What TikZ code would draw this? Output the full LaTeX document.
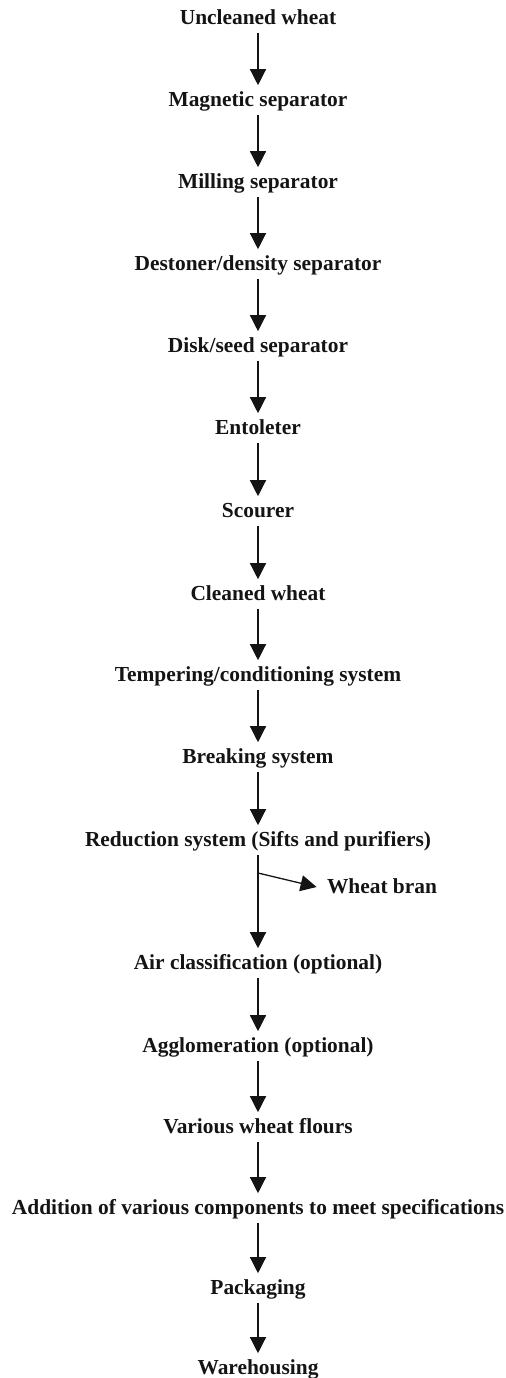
\documentclass[tikz,border=0pt]{standalone}
\usepackage{fontspec}
\setmainfont{Liberation Serif}
\usetikzlibrary{arrows.meta,positioning}
\definecolor{ink}{HTML}{141414}
\tikzset{
  % ---- process stages --------------------------------------------
  stage/.style  = {font=\fontsize{10.7}{12.5}\selectfont\bfseries, text=ink,
                   inner xsep=1pt, inner ysep=2.7pt,
                   text height=0.75em, text depth=0.15em},
  side/.style   = {stage, inner xsep=5pt},
  % ---- flow arrows -----------------------------------------------
  flow/.style   = {draw=ink, line width=.65pt,
                   -{Triangle[length=8pt, width=8pt]}},
}
\begin{document}
\begin{tikzpicture}[x=0.5pt, y=-0.5pt]
  \useasboundingbox (0,0) rectangle (506,1378);
  \node[stage] (raw)   at (258,18)   {Uncleaned wheat};
  \node[stage] (mag)   at (258,100)  {Magnetic separator};
  \node[stage] (mill)  at (258,182)  {Milling separator};
  \node[stage] (dest)  at (258,264)  {Destoner/density separator};
  \node[stage] (disk)  at (258,346)  {Disk/seed separator};
  \node[stage] (ento)  at (258,428)  {Entoleter};
  \node[stage] (scour) at (258,511)  {Scourer};
  \node[stage] (clean) at (258,594)  {Cleaned wheat};
  \node[stage] (temp)  at (258,675)  {Tempering/conditioning system};
  \node[stage] (brk)   at (258,757)  {Breaking system};
  \node[stage] (red)   at (258,840)  {Reduction system (Sifts and purifiers)};
  \node[side]  (bran)  at (382,887)  {Wheat bran};
  \node[stage] (air)   at (258,963)  {Air classification (optional)};
  \node[stage] (aggl)  at (258,1046) {Agglomeration (optional)};
  \node[stage] (flour) at (258,1127) {Various wheat flours};
  \node[stage] (add)   at (258,1208) {Addition of various components to meet specifications};
  \node[stage] (pack)  at (258,1288) {Packaging};
  \node[stage] (ware)  at (258,1368) {Warehousing};
  \coordinate (split) at (258,873);
  \draw[flow] (raw)   -- (mag);
  \draw[flow] (mag)   -- (mill);
  \draw[flow] (mill)  -- (dest);
  \draw[flow] (dest)  -- (disk);
  \draw[flow] (disk)  -- (ento);
  \draw[flow] (ento)  -- (scour);
  \draw[flow] (scour) -- (clean);
  \draw[flow] (clean) -- (temp);
  \draw[flow] (temp)  -- (brk);
  \draw[flow] (brk)   -- (red);
  \draw[flow] (red)   -- (air);
  \draw[flow] (split) -- (bran.west);
  \draw[flow] (air)   -- (aggl);
  \draw[flow] (aggl)  -- (flour);
  \draw[flow] (flour) -- (add);
  \draw[flow] (add)   -- (pack);
  \draw[flow] (pack)  -- (ware);
\end{tikzpicture}
\end{document}
